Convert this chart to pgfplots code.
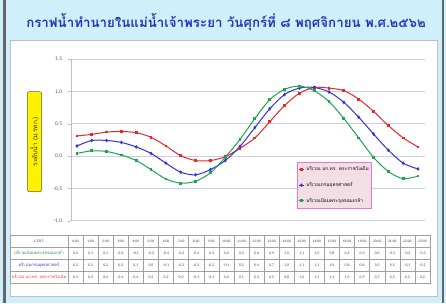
\documentclass[border=0pt]{standalone}
\usepackage{fontspec}
\setmainfont{Carlito}
\newfontfamily\thai[Script=Thai]{Loma}
\usepackage{pgfplots}
\pgfplotsset{compat=1.18}
\definecolor{bgcyan}{RGB}{207,240,251}
\definecolor{ttl}{RGB}{40,50,190}
\definecolor{gridc}{RGB}{205,205,228}
\definecolor{sred}{RGB}{235,40,40}
\definecolor{sblue}{RGB}{50,50,215}
\definecolor{sgreen}{RGB}{30,165,80}
\definecolor{legfill}{RGB}{244,222,230}
\definecolor{legdraw}{RGB}{225,120,220}
\definecolor{tgrid}{RGB}{160,160,160}
\begin{document}
\begin{tikzpicture}
\useasboundingbox (0pt,0pt) rectangle (446pt,303pt);
\begin{scope}[x=1pt,y=1pt]
\fill[bgcyan] (0,0) rectangle (446,303);
\fill[black!60] (3,0) rectangle (5.5,303);
\fill[black!60] (441.5,0) rectangle (444,303);
\fill[white] (10,7) rectangle (437,263);
\draw[black!25,line width=0.4pt] (10,7) rectangle (437,263);
% title
\node[font=\thai\bfseries\fontsize{13.3}{15}\selectfont, text=ttl] at (226,281)
  {กราฟน้ำทำนายในแม่น้ำเจ้าพระยา วันศุกร์ที่ ๘ พฤศจิกายน พ.ศ.๒๕๖๒};
% y label box
\draw[fill=yellow, draw=olive!60!black, rounded corners=2pt, line width=0.5pt] (27.3,111.3) rectangle (41.7,211.3);
\node[rotate=90, font=\thai\fontsize{6.5}{7}\selectfont, text=black!80] at (34.5,161.3) {ระดับน้ำ (ม.รทก.)};
\end{scope}
% chart
\begin{axis}[
  at={(70.7pt,82.3pt)}, anchor=south west, scale only axis,
  width=354.3pt, height=161.7pt,
  xmin=-0.42, xmax=23.47, ymin=-1, ymax=1.5,
  ytick={-1,-0.5,0,0.5,1,1.5},
  axis x line=none, axis y line*=left,
  y axis line style={draw=black!25},
  ytick style={draw=black!25},
  tick align=outside, major tick length=3pt,
  ymajorgrids, grid style={draw=gridc, line width=0.6pt},
  yticklabel style={font=\fontsize{5.5}{6}\selectfont, text=black!65, xshift=-2pt,
    /pgf/number format/.cd, fixed, fixed zerofill, precision=1, assume math mode=true},
  legend style={at={(0.639,0.365)}, anchor=north west, fill=legfill, draw=legdraw,
    line width=0.6pt, font=\thai\fontsize{4.8}{5}\selectfont, row sep=6pt,
    inner xsep=1pt, inner ysep=3pt},
  legend cell align=left,
  legend image code/.code={\draw[mark repeat=2,mark phase=2,#1] plot coordinates {(0pt,0pt) (2.5pt,0pt) (5pt,0pt)};},
]
\addplot[sred, line width=1pt, smooth, mark=square*, mark size=0.9pt] coordinates {
(0,0.31) (1,0.335) (2,0.37) (3,0.38) (4,0.36) (5,0.29) (6,0.155) (7,0.005) (8,-0.07) (9,-0.07) (10,-0.01) (11,0.12)
(12,0.28) (13,0.53) (14,0.78) (15,0.97) (16,1.06) (17,1.05) (18,1.01) (19,0.88) (20,0.69) (21,0.47) (22,0.28) (23,0.14)};
\addlegendentry{บริเวณ บก.ทร. พระราชวังเดิม}
\addplot[sblue, line width=1pt, smooth, mark=diamond*, mark size=1.1pt] coordinates {
(0,0.155) (1,0.24) (2,0.24) (3,0.21) (4,0.14) (5,0.04) (6,-0.11) (7,-0.25) (8,-0.29) (9,-0.21) (10,-0.07) (11,0.15)
(12,0.44) (13,0.73) (14,0.95) (15,1.05) (16,1.06) (17,0.99) (18,0.83) (19,0.60) (20,0.34) (21,0.09) (22,-0.11) (23,-0.20)};
\addlegendentry{บริเวณกรมอุทกศาสตร์}
\addplot[sgreen, line width=1pt, smooth, mark=square*, mark size=0.9pt] coordinates {
(0,0.04) (1,0.08) (2,0.07) (3,0.015) (4,-0.07) (5,-0.21) (6,-0.355) (7,-0.42) (8,-0.39) (9,-0.26) (10,-0.02) (11,0.26)
(12,0.58) (13,0.87) (14,1.03) (15,1.08) (16,1.01) (17,0.84) (18,0.58) (19,0.28) (20,-0.02) (21,-0.24) (22,-0.35) (23,-0.31)};
\addlegendentry{บริเวณป้อมพระจุลจอมเกล้า}
\end{axis}
% table
\begin{scope}[x=1pt,y=1pt, every node/.style={inner sep=0.3pt}]
\draw[tgrid, line width=0.4pt] (10,20) rectangle (430,68);
\foreach \yy in {56,44,32} {\draw[tgrid, line width=0.4pt] (10,\yy) -- (430,\yy);}
\foreach \k in {0,...,23} {\draw[tgrid, line width=0.4pt] ({68+\k*15.083},20) -- ({68+\k*15.083},68);}
\node[font=\thai\fontsize{4.5}{5}\selectfont, text=sblue] at (39,62) {เวลา};
\node[font=\thai\fontsize{4.2}{5}\selectfont, text=sgreen!90!black] at (39,50) {บริเวณป้อมพระจุลจอมเกล้า};
\node[font=\thai\fontsize{4.2}{5}\selectfont, text=sblue] at (39,38) {บริเวณกรมอุทกศาสตร์};
\node[font=\thai\fontsize{4.2}{5}\selectfont, text=sred] at (39,26) {บริเวณ บก.ทร. พระราชวังเดิม};
\foreach \v [count=\i from 0] in {0:00,1:00,2:00,3:00,4:00,5:00,6:00,7:00,8:00,9:00,10:00,11:00,12:00,13:00,14:00,15:00,16:00,17:00,18:00,19:00,20:00,21:00,22:00,23:00}
  {\node[font=\fontsize{3.6}{4}\selectfont, text=black!75] at ({68+(\i+0.5)*15.083},62) {\v};}
\foreach \v [count=\i from 0] in {0.0,0.1,0.1,0.0,-0.1,-0.2,-0.4,-0.4,-0.4,-0.2,0.0,0.3,0.6,0.9,1.0,1.1,1.0,0.8,0.6,0.3,0.0,-0.2,-0.3,-0.3}
  {\node[font=\fontsize{3.8}{4}\selectfont, text=black!75] at ({68+(\i+0.5)*15.083},50) {\v};}
\foreach \v [count=\i from 0] in {0.2,0.2,0.2,0.2,0.1,0.0,-0.1,-0.2,-0.3,-0.2,-0.1,0.2,0.4,0.7,1.0,1.1,1.1,1.0,0.8,0.6,0.3,0.1,-0.1,-0.2}
  {\node[font=\fontsize{3.8}{4}\selectfont, text=black!75] at ({68+(\i+0.5)*15.083},38) {\v};}
\foreach \v [count=\i from 0] in {0.3,0.3,0.4,0.4,0.4,0.3,0.2,0.0,-0.1,-0.1,0.0,0.1,0.3,0.5,0.8,1.0,1.1,1.1,1.0,0.9,0.7,0.5,0.3,0.2}
  {\node[font=\fontsize{3.8}{4}\selectfont, text=black!75] at ({68+(\i+0.5)*15.083},26) {\v};}
\end{scope}
\end{tikzpicture}
\end{document}
